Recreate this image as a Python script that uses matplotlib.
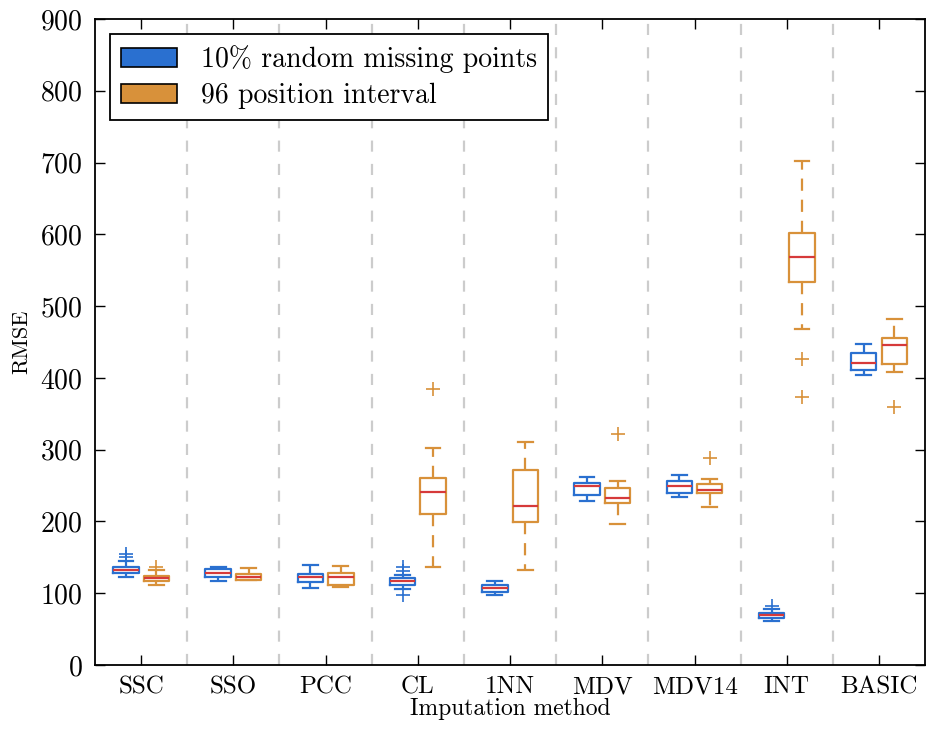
import matplotlib
matplotlib.use("Agg")
import matplotlib.pyplot as plt
from matplotlib.patches import Patch

plt.rcParams['font.family'] = ['cmr10', 'DejaVu Serif']
plt.rcParams['mathtext.fontset'] = 'cm'
plt.rcParams['axes.formatter.use_mathtext'] = True

# imputation methods on the x axis
methods = ["SSC", "SSO", "PCC", "CL", "1NN", "MDV", "MDV14", "INT", "BASIC"]
series_names = ["10% random missing points", "96 position interval"]

# box statistics, 10% random missing points
rnd_whislo = [122, 117, 108, 106, 98, 229, 234, 62, 404]
rnd_q1 = [128, 123, 116, 112, 102, 237, 240, 66, 411]
rnd_med = [133, 128, 122, 117, 107, 249, 249, 69, 421]
rnd_q3 = [137, 134, 127, 121, 112, 254, 257, 72, 434]
rnd_whishi = [145, 136, 139, 125, 117, 262, 265, 78, 447]
rnd_fliers = [[150, 155], [], [], [131, 137, 98], [], [], [], [82], []]

# 96 position interval
itv_whislo = [111, 118, 109, 137, 132, 196, 220, 468, 408]
itv_q1 = [117, 119, 112, 210, 199, 226, 239, 534, 419]
itv_med = [121, 123, 122, 241, 221, 233, 244, 568, 446]
itv_q3 = [124, 127, 128, 261, 272, 247, 252, 602, 456]
itv_whishi = [132, 135, 138, 303, 311, 256, 259, 702, 482]
itv_fliers = [[136], [], [], [385], [], [322], [289], [426, 374], [359]]

blue = "#2a70d0"
orange = "#d8913a"
red = "#d63a3a"


def make_stats(whislo, q1, med, q3, whishi, fliers):
    stats = []
    for i in range(len(med)):
        stats.append({"whislo": whislo[i], "q1": q1[i], "med": med[i],
                      "q3": q3[i], "whishi": whishi[i], "fliers": fliers[i]})
    return stats


fig = plt.figure(figsize=(9.27, 7.30), dpi=100)
ax = fig.add_axes([0.1025, 0.089, 0.8955, 0.885])

pos = list(range(1, len(methods) + 1))
groups = [
    (make_stats(rnd_whislo, rnd_q1, rnd_med, rnd_q3, rnd_whishi, rnd_fliers), blue, -0.165),
    (make_stats(itv_whislo, itv_q1, itv_med, itv_q3, itv_whishi, itv_fliers), orange, 0.165),
]
lw = 1.6
for stats, col, off in groups:
    ax.bxp(stats, positions=[p + off for p in pos], widths=0.275,
           showfliers=True, patch_artist=False,
           boxprops=dict(color=col, linewidth=lw),
           whiskerprops=dict(color=col, linewidth=lw, linestyle=(0, (5.5, 4))),
           capprops=dict(color=col, linewidth=lw),
           medianprops=dict(color=red, linewidth=lw),
           flierprops=dict(marker="+", markeredgecolor=col, markersize=10,
                           markeredgewidth=1.2, linestyle="none"),
           capwidths=0.16)

# separators between methods
for k in range(1, len(methods)):
    ax.axvline(k + 0.5, color="#cccccc", linewidth=1.6, linestyle=(0, (5, 5.5)), zorder=0)

ax.set_xlim(0.5, len(methods) + 0.5)
ax.set_ylim(0, 900)
ax.set_xticks(pos)
ax.set_xticklabels(methods, fontsize=18)
ax.set_yticks(range(0, 901, 100))
ax.tick_params(axis="y", labelsize=20, pad=9)
ax.tick_params(axis="x", pad=8)
ax.tick_params(direction="in", top=True, right=True, length=7, width=1)
for s in ax.spines.values():
    s.set_linewidth(1.3)

ax.set_xlabel("Imputation method", fontsize=17, labelpad=0)
ax.set_ylabel("RMSE", fontsize=16, labelpad=6)

handles = [Patch(facecolor=blue, edgecolor="black", linewidth=1.2),
           Patch(facecolor=orange, edgecolor="black", linewidth=1.2)]
leg = ax.legend(handles, series_names, loc="upper left", fontsize=20,
                handlelength=2.0, handleheight=0.7, handletextpad=0.85,
                fancybox=False, framealpha=1, borderaxespad=0.55,
                borderpad=0.4, labelspacing=0.35)
leg.get_frame().set_edgecolor("black")
leg.get_frame().set_linewidth(1.3)

fig.savefig("out.png", dpi=100)
